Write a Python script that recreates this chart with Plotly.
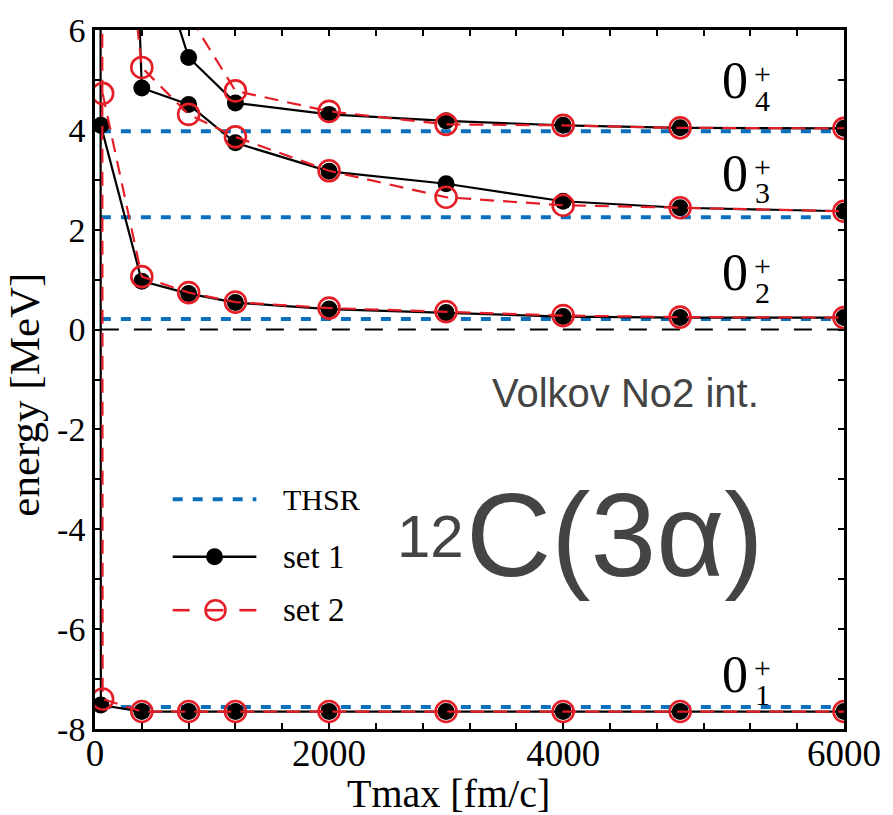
import plotly.graph_objects as go

# ---------------- data ----------------
# Tmax values [fm/c]
T_set1 = [50, 400, 800, 1200, 2000, 3000, 4000, 5000, 6400]
T_set2 = [65, 400, 800, 1200, 2000, 3000, 4000, 5000, 6400]
# ground state series start from an (off-scale) T=0 value
T_set1_g = [0] + T_set1
T_set2_g = [0] + T_set2

# set 1 (black, filled circles)
set1_01 = [300.0, -7.52, -7.65, -7.65, -7.65, -7.65, -7.65, -7.65, -7.65, -7.65]
set1_02 = [4.09, 0.97, 0.72, 0.54, 0.41, 0.34, 0.26, 0.24, 0.24]
set1_03 = [28.0, 4.84, 4.51, 3.74, 3.17, 2.92, 2.57, 2.44, 2.37]
set1_04 = [40.0, 8.4, 5.45, 4.54, 4.31, 4.18, 4.09, 4.04, 4.03]

# set 2 (red, open circles)
set2_01 = [300.0, -7.40, -7.65, -7.65, -7.65, -7.65, -7.65, -7.65, -7.65, -7.65]
set2_02 = [4.73, 1.06, 0.74, 0.55, 0.43, 0.36, 0.28, 0.25, 0.24]
set2_03 = [12.5, 5.25, 4.31, 3.86, 3.18, 2.65, 2.49, 2.44, 2.37]
set2_04 = [30.0, 9.0, 6.3, 4.78, 4.37, 4.11, 4.09, 4.04, 4.03]

# THSR reference energies
thsr_levels = [3.97, 2.25, 0.21, -7.56]
thsr_T = [50, 6400]
zero_T = [50, 6400]
zero_E = [0.0, 0.0]

# axis ticks
x_tickvals = [0, 2000, 4000, 6400]
x_ticktext = ["0", "2000", "4000", "6000"]
y_tickvals = [-8, -6, -4, -2, 0, 2, 4, 6]
y_ticktext = ["-8", "-6", "-4", "-2", "0", "2", "4", "6"]

level_subs = ["4", "3", "2", "1"]

# ---------------- styles ----------------
BLACK = "#000000"
RED = "#e41e26"
BLUE = "#0a6fbd"
GRAY = "#444444"
SERIF = "Liberation Serif, Times New Roman, serif"
SANS = "Liberation Sans, Arial, sans-serif"

fig = go.Figure()

# zero line
fig.add_trace(go.Scatter(x=zero_T, y=zero_E, mode="lines",
                         line=dict(color=BLACK, width=2, dash="18px,15px"),
                         showlegend=False, hoverinfo="skip"))

# THSR lines
for e in thsr_levels:
    fig.add_trace(go.Scatter(x=thsr_T, y=[e, e], mode="lines",
                             line=dict(color=BLUE, width=4, dash="10px,10px"),
                             showlegend=False, hoverinfo="skip"))

# set 1
for T, E in [(T_set1_g, set1_01), (T_set1, set1_02), (T_set1, set1_03), (T_set1, set1_04)]:
    fig.add_trace(go.Scatter(x=T, y=E, mode="lines+markers",
                             line=dict(color=BLACK, width=2.2),
                             marker=dict(color=BLACK, size=17, line=dict(width=0)),
                             showlegend=False, cliponaxis=True))

# set 2
for T, E in [(T_set2_g, set2_01), (T_set2, set2_02), (T_set2, set2_03), (T_set2, set2_04)]:
    fig.add_trace(go.Scatter(x=T, y=E, mode="lines+markers",
                             line=dict(color=RED, width=2.2, dash="14px,9px"),
                             marker=dict(symbol="circle-open", color=RED, size=21,
                                         line=dict(width=2.6, color=RED)),
                             showlegend=False, cliponaxis=True))

# ---------------- layout ----------------
L, R, T, B = 95, 46, 23, 86
W, H = 893, 815
pw, ph = W - L - R, H - T - B


def px2paper(xp, yp):
    return (xp - L) / pw, (H - B - yp) / ph


annotations = []
shapes = []

# level labels 0+_n
lab_x0 = 5470
lab_x1 = 5700
lab_y = [(4.98, 5.12, 4.59), (3.13, 3.27, 2.74), (1.14, 1.28, 0.75), (-6.91, -6.77, -7.30)]
for sub, (y0, yp, ys) in zip(level_subs, lab_y):
    annotations.append(dict(x=lab_x0, y=y0, xref="x", yref="y", text="0", showarrow=False,
                            font=dict(family=SERIF, size=52, color=BLACK),
                            xanchor="center", yanchor="middle"))
    annotations.append(dict(x=lab_x1, y=yp, xref="x", yref="y", text="+", showarrow=False,
                            font=dict(family=SERIF, size=30, color=BLACK),
                            xanchor="center", yanchor="middle"))
    annotations.append(dict(x=lab_x1, y=ys, xref="x", yref="y", text=sub, showarrow=False,
                            font=dict(family=SERIF, size=30, color=BLACK),
                            xanchor="center", yanchor="middle"))

# interaction text
ax, ay = px2paper(628, 390)
annotations.append(dict(x=ax, y=ay, xref="paper", yref="paper", text="Volkov No2 int.",
                        showarrow=False, font=dict(family=SANS, size=40, color=GRAY),
                        xanchor="center", yanchor="middle"))

# 12C(3alpha)
ax, ay = px2paper(465, 580)
annotations.append(dict(x=ax, y=ay, xref="paper", yref="paper", text="C(3α)",
                        showarrow=False, font=dict(family=SANS, size=118, color=GRAY),
                        xanchor="left", yanchor="bottom", yshift=-22))
ax, ay = px2paper(396, 558)
annotations.append(dict(x=ax, y=ay, xref="paper", yref="paper", text="12",
                        showarrow=False, font=dict(family=SANS, size=60, color=GRAY),
                        xanchor="left", yanchor="bottom", yshift=-12))

# axis titles
ax, ay = px2paper(450, 794)
annotations.append(dict(x=ax, y=ay, xref="paper", yref="paper", text="Tmax [fm/c]",
                        showarrow=False, font=dict(family=SERIF, size=40, color=BLACK),
                        xanchor="center", yanchor="middle"))
ax, ay = px2paper(24, 391)
annotations.append(dict(x=ax, y=ay, xref="paper", yref="paper", text="energy [MeV]",
                        showarrow=False, textangle=-90,
                        font=dict(family=SERIF, size=43, color=BLACK),
                        xanchor="center", yanchor="middle"))

# custom legend
leg_x0, leg_x1, leg_mx, leg_tx = 173, 257, 215, 282
leg_rows = [("THSR", 497, 30), ("set 1", 555, 33), ("set 2", 609, 33)]
# THSR sample
a0, b0 = px2paper(leg_x0, 497)
a1, _ = px2paper(leg_x1, 497)
shapes.append(dict(type="line", xref="paper", yref="paper", x0=a0, x1=a1, y0=b0, y1=b0,
                   line=dict(color=BLUE, width=4, dash="10px,10px")))
# set 1 sample
a0, b0 = px2paper(leg_x0, 555)
a1, _ = px2paper(leg_x1, 555)
shapes.append(dict(type="line", xref="paper", yref="paper", x0=a0, x1=a1, y0=b0, y1=b0,
                   line=dict(color=BLACK, width=2.4)))
c0 = px2paper(leg_mx - 8.5, 555 - 8.5)
c1 = px2paper(leg_mx + 8.5, 555 + 8.5)
shapes.append(dict(type="circle", xref="paper", yref="paper", x0=c0[0], x1=c1[0],
                   y0=c1[1], y1=c0[1], fillcolor=BLACK, line=dict(color=BLACK, width=0)))
# set 2 sample
for s0, s1 in [(173, 190), (207, 224), (240, 257)]:
    a0, b0 = px2paper(s0, 609)
    a1, _ = px2paper(s1, 609)
    shapes.append(dict(type="line", xref="paper", yref="paper", x0=a0, x1=a1, y0=b0, y1=b0,
                       line=dict(color=RED, width=2.6)))
c0 = px2paper(leg_mx + 1 - 10, 609 - 10)
c1 = px2paper(leg_mx + 1 + 10, 609 + 10)
shapes.append(dict(type="circle", xref="paper", yref="paper", x0=c0[0], x1=c1[0],
                   y0=c1[1], y1=c0[1], line=dict(color=RED, width=2.6)))
for name, yp, fs in leg_rows:
    a, b = px2paper(leg_tx, yp)
    annotations.append(dict(x=a, y=b, xref="paper", yref="paper", text=name, showarrow=False,
                            font=dict(family=SERIF, size=fs, color=BLACK),
                            xanchor="left", yanchor="middle"))

fig.update_layout(
    width=W, height=H,
    margin=dict(l=L, r=R, t=T, b=B),
    plot_bgcolor="white", paper_bgcolor="white",
    font=dict(family=SERIF, color=BLACK),
    showlegend=False,
    annotations=annotations,
    shapes=shapes,
    xaxis=dict(range=[0, 6400], tickmode="array", tickvals=x_tickvals, ticktext=x_ticktext,
               showgrid=False, zeroline=False, showline=True, linecolor=BLACK, linewidth=2.5,
               mirror="ticks", ticks="inside", ticklen=6, tickwidth=2, tickcolor=BLACK,
               tickfont=dict(family=SERIF, size=37, color=BLACK), ticklabelstandoff=-10,
               minor=dict(tickmode="linear", tick0=0, dtick=400, ticks="inside",
                          ticklen=6, tickwidth=2, tickcolor=BLACK, showgrid=False)),
    yaxis=dict(range=[-8, 6], tickmode="array", tickvals=y_tickvals, ticktext=y_ticktext,
               showgrid=False, zeroline=False, showline=True, linecolor=BLACK, linewidth=2.5,
               mirror="ticks", ticks="inside", ticklen=6, tickwidth=2, tickcolor=BLACK,
               tickfont=dict(family=SERIF, size=34, color=BLACK),
               minor=dict(tickmode="linear", tick0=0, dtick=1, ticks="inside",
                          ticklen=6, tickwidth=2, tickcolor=BLACK, showgrid=False)),
)

fig.write_html("out.html")
